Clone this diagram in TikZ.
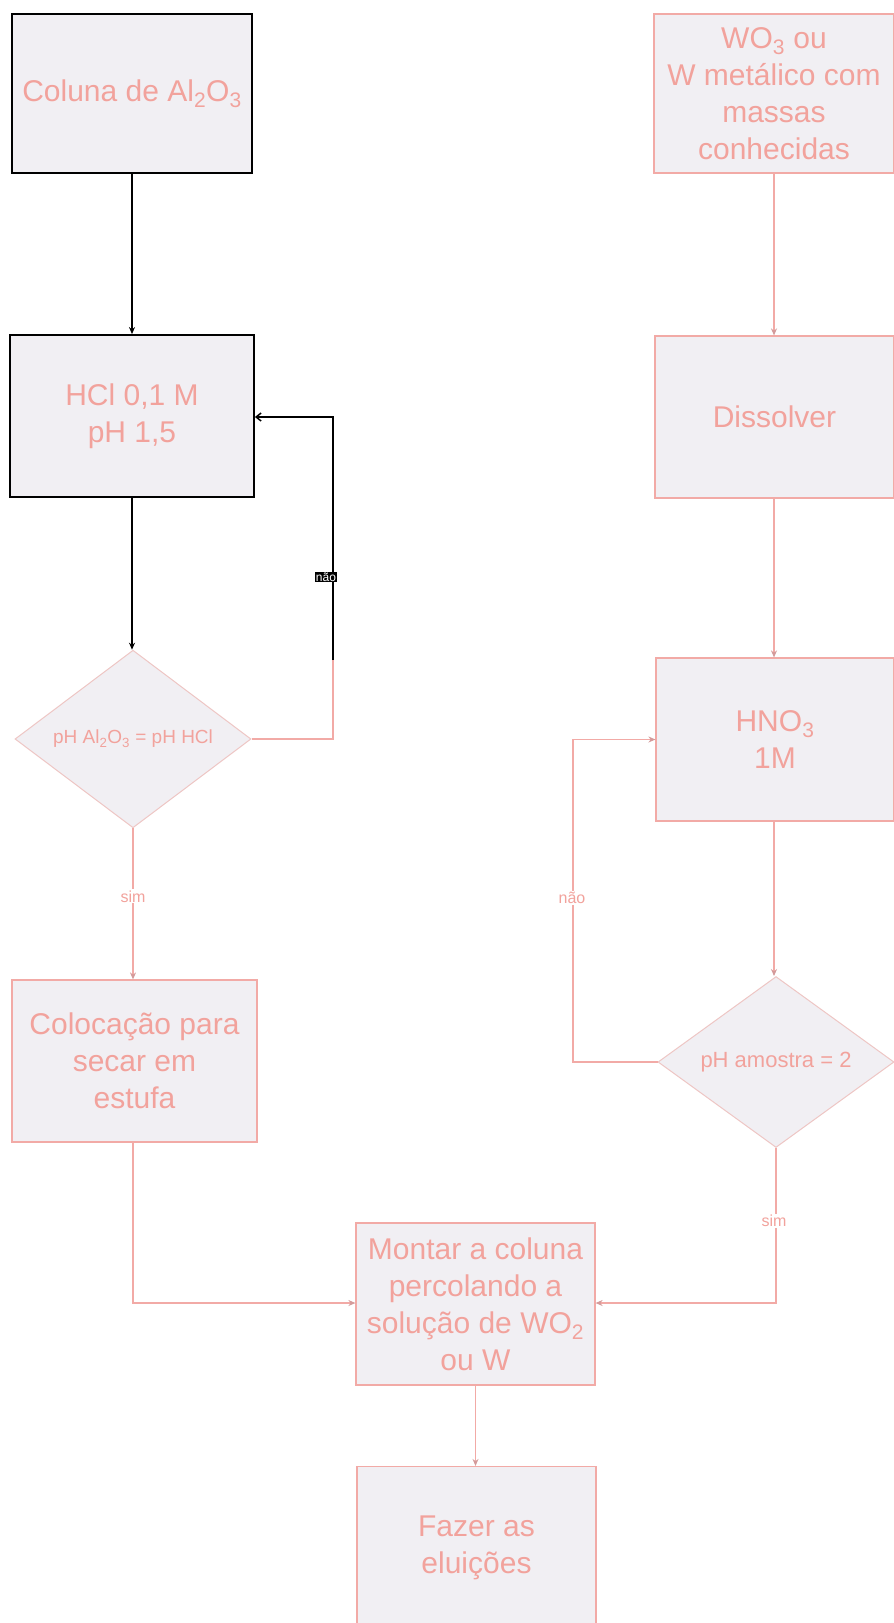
\documentclass[tikz,border=0pt]{standalone}
\usepackage{fontspec}
\setmainfont{Liberation Sans}
\usetikzlibrary{shapes.geometric,arrows.meta}
\definecolor{txtpink}{HTML}{F2A29C}
\definecolor{boxfill}{HTML}{F1EFF3}
\definecolor{linepink}{HTML}{F2AAA6}
\definecolor{diaedge}{HTML}{EEC6C4}
\definecolor{tipcol}{HTML}{D49A9A}
\tikzset{
  box/.style={draw=linepink, line width=1.2pt, fill=boxfill, text=txtpink, align=center,
    inner sep=0pt, font=\fontsize{30}{37}\selectfont},
  blackbox/.style={box, draw=black, line width=1.8pt},
  decision/.style={diamond, draw=diaedge, fill=boxfill, line width=1pt, inner sep=0pt,
    text=txtpink},
  conn/.style={draw=linepink, line width=1.2pt},
  arr/.style={conn, -{Stealth[length=7pt,width=6pt,color=tipcol]}},
  blackconn/.style={draw=black, line width=1.5pt},
  blackarr/.style={blackconn, -{Stealth[length=7pt,width=6pt]}},
  lbl/.style={text=txtpink, font=\fontsize{16}{18}\selectfont, fill=white, inner sep=1pt}
}
\begin{document}
\begin{tikzpicture}[x=1pt,y=-1pt]
\useasboundingbox[fill=white] (0,0) rectangle (894,1623);

% left column
\node[blackbox, minimum width=240pt, minimum height=159pt] (alu) at (132,93.5) {Coluna de Al\textsubscript{2}O\textsubscript{3}};
\node[blackbox, minimum width=244pt, minimum height=162pt] (hcl) at (132,416) {HCl 0,1 M\\pH 1,5};
\node[decision, minimum width=236pt, minimum height=158pt, font=\fontsize{19}{22}\selectfont] (d1) at (133,739) {pH Al\textsubscript{2}O\textsubscript{3} = pH HCl};
\node[box, minimum width=245pt, minimum height=162pt] (secar) at (134.5,1061) {Colocação para\\secar em\\estufa};

% right column
\node[box, minimum width=240pt, minimum height=159pt] (wo) at (774,93.5) {WO\textsubscript{3} ou\\W metálico com\\massas\\conhecidas};
\node[box, minimum width=239pt, minimum height=162pt] (diss) at (774.5,417) {Dissolver};
\node[box, minimum width=238pt, minimum height=163pt] (hno) at (775,739.5) {HNO\textsubscript{3}\\1M};
\node[decision, minimum width=236pt, minimum height=159pt, font=\fontsize{22}{26}\selectfont] (d2) at (776,1062) {pH amostra = 2};

% bottom
\node[box, minimum width=239pt, minimum height=162pt] (montar) at (475.5,1304) {Montar a coluna\\percolando a\\solução de WO\textsubscript{2}\\ou W};
\node[box, minimum width=239pt, minimum height=163pt] (fazer) at (476.5,1548) {Fazer as\\eluições};

% left connectors
\draw[blackarr] (alu.south) -- (alu.south |- hcl.north);
\draw[blackarr] (hcl.south) -- (hcl.south |- d1.north);
\coordinate (f1) at (333,739);
\coordinate (f2) at (333,660);
\coordinate (f3) at (333,417);
\draw[conn] (d1.east) -- (f1) -- (f2);
\draw[blackconn, -{Straight Barb[length=5pt,width=8pt]}] (f2) -- (f3) -- (hcl.east |- f3);
\node[fill=black, text=white, inner sep=1pt, font=\fontsize{12}{14}\selectfont] (nao1) at (326,577) {não};

\coordinate (s1) at (133,1303);
\draw[arr] (d1.south) -- (d1.south |- secar.north) node[lbl, pos=0.45] (sim1) {sim};
\draw[arr] (s1 |- secar.south) -- (s1) -- (montar.west |- s1);

% right connectors
\draw[arr] (wo.south) -- (wo.south |- diss.north);
\draw[arr] (wo.south |- diss.south) -- (wo.south |- hno.north);
\draw[arr] (wo.south |- hno.south) -- (wo.south |- d2.north);
\coordinate (n1) at (573,1062);
\coordinate (n2) at (573,739.5);
\draw[arr] (d2.west) -- (n1) -- (n2) -- (hno.west);
\node[lbl] (nao2) at (572,898) {não};
\coordinate (s2) at (776,1303);
\draw[arr] (d2.south) -- (s2) -- (montar.east |- s2);
\node[lbl] (sim2) at (774,1221) {sim};

\draw[arr] (montar.south) -- (montar.south |- fazer.north);
\end{tikzpicture}
\end{document}
